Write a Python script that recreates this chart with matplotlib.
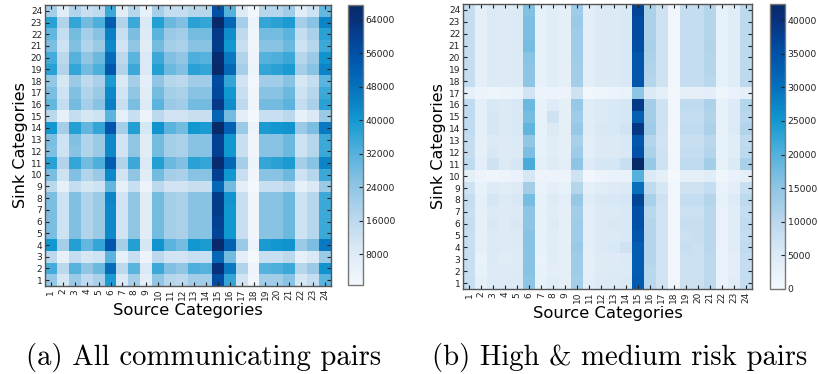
import numpy as np
import matplotlib
matplotlib.use("Agg")
import matplotlib.pyplot as plt
from matplotlib.colors import LinearSegmentedColormap

# ---------------- data (values in thousands of pairs) ----------------
categories = [str(i) for i in range(1, 25)]

# Panel (a): all communicating pairs; rows = sink category 1..24, cols = source 1..24
all_pairs_k = [
    [23, 10, 22, 15, 19, 39, 9, 20, 6, 24, 17, 16, 21, 21, 57, 36, 11, 1.6, 21, 21, 25, 10, 14, 31],   # 1
    [34, 16, 32, 24, 29, 49, 16, 31, 9, 35, 26, 24, 33, 32, 64, 46, 18, 2.5, 32, 33, 35, 17, 22, 41],  # 2
    [16, 5, 14, 10, 12, 31, 5, 13, 3, 16, 11, 11, 13, 13, 50, 28, 6, 0.6, 13, 13, 16, 5, 9, 22],       # 3
    [40, 20, 38, 30, 36, 55, 20, 38, 10, 41, 31, 28, 40, 39, 67, 52, 22, 3, 39, 40, 41, 22, 27, 46],   # 4
    [27, 12, 26, 18, 22, 43, 11, 24, 7, 28, 20, 19, 25, 25, 59, 40, 13, 2, 25, 25, 29, 12, 17, 35],    # 5
    [27, 12, 26, 18, 22, 43, 11, 24, 7, 28, 20, 19, 25, 25, 60, 40, 13, 2, 25, 25, 29, 12, 17, 35],    # 6
    [27, 12, 26, 18, 22, 43, 11, 24, 7, 28, 20, 19, 25, 25, 61, 40, 13, 2, 25, 25, 29, 12, 17, 35],    # 7
    [27, 12, 26, 18, 22, 44, 11, 24, 7, 28, 20, 19, 25, 25, 61, 41, 13, 2, 25, 25, 29, 12, 17, 35],    # 8
    [16, 5, 14, 10, 12, 30, 5, 13, 3, 16, 11, 11, 13, 13, 50, 28, 6, 0.6, 13, 13, 16, 5, 9, 22],       # 9
    [27, 12, 26, 18, 22, 43, 11, 24, 7, 28, 20, 19, 25, 25, 60, 40, 13, 2, 25, 25, 29, 12, 17, 35],    # 10
    [37, 18, 36, 28, 33, 53, 18, 35, 9, 38, 29, 26, 37, 36, 66, 50, 20, 2.8, 36, 37, 39, 20, 25, 44],  # 11
    [26, 12, 25, 18, 22, 43, 11, 24, 7, 28, 20, 19, 25, 25, 60, 40, 13, 2, 25, 25, 29, 12, 17, 35],    # 12
    [27, 12, 26, 18, 22, 43, 11, 24, 7, 28, 20, 19, 25, 25, 60, 40, 13, 2, 25, 25, 29, 12, 17, 35],    # 13
    [40, 20, 38, 30, 36, 55, 20, 38, 10, 41, 31, 28, 40, 39, 67.6, 52, 22, 3, 39, 40, 41, 22, 27, 46], # 14
    [16, 5, 14, 10, 12, 31, 5, 13, 3, 16, 11, 11, 13, 13, 51, 28, 6, 0.6, 13, 13, 16, 5, 9, 22],       # 15
    [30, 14, 28, 20, 25, 45, 13, 27, 8, 31, 22, 21, 28, 28, 62, 42, 15, 2.2, 28, 28, 31, 14, 19, 37],  # 16
    [27, 12, 26, 18, 22, 43, 11, 24, 7, 28, 20, 19, 25, 25, 58, 40, 13, 2, 25, 25, 29, 12, 17, 35],    # 17
    [23, 10, 22, 15, 19, 39, 9, 20, 6, 24, 17, 16, 21, 21, 57, 36, 11, 1.6, 21, 21, 25, 10, 14, 31],   # 18
    [37, 18, 36, 28, 33, 54, 18, 35, 9, 38, 29, 26, 37, 36, 67, 50, 20, 2.8, 36, 37, 39, 20, 25, 44],  # 19
    [34, 16, 32, 24, 29, 49, 16, 31, 9, 35, 26, 24, 33, 32, 66, 46, 18, 2.5, 32, 33, 35, 17, 22, 41],  # 20
    [27, 12, 26, 18, 22, 43, 11, 24, 7, 28, 20, 19, 25, 25, 61, 40, 13, 2, 25, 25, 29, 12, 17, 35],    # 21
    [30, 14, 28, 20, 25, 45, 13, 27, 8, 31, 22, 21, 28, 28, 62, 42, 15, 2.2, 28, 28, 31, 14, 19, 37],  # 22
    [37, 18, 36, 28, 33, 53, 18, 35, 9, 38, 29, 26, 37, 36, 67, 50, 20, 2.8, 36, 37, 39, 20, 25, 44],  # 23
    [20, 7, 18, 13, 15, 35, 7, 17, 5, 20, 14, 14, 17, 17, 56, 32, 8, 1.2, 17, 17, 21, 7, 12, 30],      # 24
]

# Panel (b): high & medium risk pairs
risk_pairs_k = [
    [8, 3, 5, 4.5, 5, 15, 2.5, 4, 3, 12.5, 3.5, 5, 5, 5.5, 33.5, 10, 6.5, 0.5, 7.5, 7.5, 9.5, 2, 4, 8.5],          # 1
    [8, 2.5, 4.5, 4.5, 5, 15.5, 2.5, 3.5, 3, 13, 3, 4.5, 5, 5, 33, 10, 6.5, 0.5, 7.5, 7.5, 9.5, 2, 3.5, 8.5],       # 2
    [8, 2, 5, 4, 4.5, 15.5, 2, 4, 3, 13, 3, 4.5, 4.5, 5, 33, 10.5, 6.5, 0.5, 7.5, 7.5, 9.5, 2, 3.5, 8.5],           # 3
    [8, 3, 5, 4.5, 5, 15.5, 2.5, 4, 3, 13.5, 3.5, 5, 5.5, 7, 33, 10.5, 6.5, 0.5, 8, 7.5, 10, 2, 4, 9],              # 4
    [8, 3, 5, 4.5, 5, 15.5, 2.5, 4, 3, 13, 3.5, 5, 5, 5.5, 34, 10.5, 6.5, 0.5, 7.5, 8, 10, 2, 4, 8.5],              # 5
    [8.5, 3, 5.5, 4.5, 5.5, 15, 2.5, 4.5, 3, 13, 3.5, 5, 5.5, 5.5, 35, 10.5, 6.5, 0.5, 8, 8, 10, 2, 4, 9],          # 6
    [8, 3, 5, 4.5, 5, 15, 2.5, 4, 3, 12.5, 3.5, 5, 5, 5.5, 35, 10, 6.5, 0.5, 7.5, 7.5, 10, 2, 4, 8.5],              # 7
    [8.5, 3, 6, 5, 5.5, 17, 2.5, 4.5, 3.5, 14, 4, 5.5, 5.5, 6, 37, 12, 7, 0.5, 8.5, 8.5, 10.5, 2.5, 4.5, 9.5],      # 8
    [7, 2.5, 4.5, 4, 4.5, 12.5, 2, 3.5, 2.5, 10.5, 3, 4, 4.5, 5, 30, 9, 6, 0.5, 7, 7, 8.5, 2, 3.5, 8],              # 9
    [3, 1.5, 1, 1.5, 2, 6, 1.5, 1.5, 1.5, 7, 0.5, 1.5, 2, 2, 20, 5, 3, 0, 3, 3, 4, 1, 2, 3],                        # 10
    [9, 3.5, 7, 5, 6, 21, 3, 4.5, 3.5, 15, 4.5, 6, 6, 8, 42.4, 14, 7, 0.5, 9, 9, 12.5, 2.5, 5, 12],                 # 11
    [8.5, 3, 5.5, 4.5, 5, 16.5, 2.5, 4, 3, 13, 3.5, 5, 5, 5.5, 35, 11.5, 7, 0.5, 8.5, 8.5, 10.5, 2.5, 4, 9.5],      # 12
    [8.5, 3, 5, 4.5, 5, 14.5, 2.5, 4, 3, 12, 3.5, 5, 5, 5.5, 34, 10.5, 6.5, 0.5, 8, 8, 10, 2.5, 4, 9],              # 13
    [9, 3, 6, 5, 5.5, 19, 2.5, 5, 3, 14, 4, 5.5, 5.5, 6.5, 39, 13, 7, 0.5, 9, 9, 11.5, 2.5, 5, 11],                 # 14
    [9, 3, 6, 5, 5.5, 17, 2.5, 7, 3, 13, 4, 5, 5.5, 6, 32.5, 12.5, 7, 0.5, 8.5, 8.5, 11, 2.5, 4.5, 10],             # 15
    [9, 3, 5.5, 5, 5.5, 18, 2.5, 4.5, 3, 14, 4, 5, 5.5, 6, 38.5, 12.5, 7, 0.5, 9, 9, 11.5, 2.5, 4.5, 10.5],         # 16
    [3, 1.5, 1, 1.5, 2, 6.5, 1.5, 1.5, 1.5, 7, 0.5, 1, 1.5, 2, 15, 5, 3, 0.3, 3, 3, 3.5, 1, 2, 3],                  # 17
    [8.5, 3, 5, 4.5, 5, 15, 2.5, 4, 3, 12.5, 3.5, 5, 5, 5.5, 34, 10.5, 7, 0.5, 8.5, 8.5, 10, 2.5, 4, 9.5],          # 18
    [8.5, 3, 5, 4.5, 5, 15, 2.5, 4, 3, 12.5, 3.5, 5, 5, 5.5, 34, 11, 7, 0.5, 8.5, 8.5, 10.5, 2.5, 4, 9.5],          # 19
    [8.5, 3, 5, 4.5, 5, 15.5, 2.5, 4, 3, 13, 3.5, 5, 5, 5.5, 34, 11.5, 7, 0.5, 8.5, 8.5, 10.5, 2.5, 4, 9.5],        # 20
    [8.5, 3, 5, 4.5, 5, 17, 2.5, 4, 3, 13, 3.5, 5, 5, 5.5, 35.5, 12, 7, 0.5, 8.5, 8.5, 11, 2.5, 4, 9.5],            # 21
    [8.5, 3, 5, 4.5, 5, 16.5, 2.5, 4, 3, 13, 3.5, 5, 5, 5.5, 36, 11.5, 7, 0.5, 8.5, 8.5, 10.5, 2.5, 4, 9.5],        # 22
    [8.5, 3, 5, 4.5, 5, 16.5, 2.5, 4, 3, 13.5, 3.5, 5, 5, 5.5, 36, 11.5, 7, 0.5, 8.5, 8.5, 10.5, 2.5, 4, 9.5],      # 23
    [8.5, 3, 5, 4.5, 5, 16, 2.5, 4, 3, 13, 3.5, 5, 5, 5.5, 37, 11.5, 7, 0.5, 8.5, 8.5, 10.5, 2.5, 4, 9.5],          # 24
]

cbar_ticks_a = [8000, 16000, 24000, 32000, 40000, 48000, 56000, 64000]
cbar_ticks_b = [0, 5000, 10000, 15000, 20000, 25000, 30000, 35000, 40000]
captions = ["(a) All communicating pairs", "(b) High & medium risk pairs"]

# ---------------- style ----------------
cmap = LinearSegmentedColormap.from_list("oldblues", [
    (0.00, "#f3f8fd"), (0.12, "#dceaf6"), (0.24, "#b8d7ed"), (0.36, "#8cc4e4"),
    (0.48, "#4fb0dc"), (0.59, "#1298d1"), (0.71, "#0670bc"), (0.83, "#0050a8"),
    (0.95, "#08307a"), (1.00, "#082a68")])

fig = plt.figure(figsize=(8.18, 3.74), dpi=100)

panels = [
    (np.array(all_pairs_k) * 1000, [0.055, 0.2353, 0.3496, 0.7513], [0.4254, 0.238, 0.0183, 0.749], cbar_ticks_a),
    (np.array(risk_pairs_k) * 1000, [0.566, 0.2273, 0.3533, 0.762], [0.9413, 0.2273, 0.0183, 0.762], cbar_ticks_b),
]

for data, pos, cpos, cticks in panels:
    ax = fig.add_axes(pos)
    im = ax.imshow(data, cmap=cmap, origin="lower", aspect="auto", interpolation="nearest")
    ax.set_xticks(range(24))
    ax.set_xticklabels(categories, rotation=90)
    ax.set_yticks(range(24))
    ax.set_yticklabels(categories)
    ax.tick_params(direction="in", top=True, right=True, length=3, width=0.8,
                   labelsize=6.5, pad=2, colors="#222222")
    for s in ax.spines.values():
        s.set_color("#555555")
        s.set_linewidth(1.0)
    ax.set_xlabel("Source Categories", fontsize=11.8, labelpad=2)
    ax.set_ylabel("Sink Categories", fontsize=11.5, labelpad=2)
    cax = fig.add_axes(cpos)
    cb = fig.colorbar(im, cax=cax, ticks=cticks)
    cb.outline.set_edgecolor("#777777")
    cb.outline.set_linewidth(1.0)
    cax.tick_params(direction="in", length=3, width=0.8, labelsize=6.7, pad=2, colors="#222222")

fig.text(0.2494, 0.024, captions[0], fontfamily="cmr10", fontsize=20.7, ha="center", va="baseline")
fig.text(0.758, 0.024, captions[1], fontfamily="cmr10", fontsize=20.7, ha="center", va="baseline")

fig.savefig("out.png", dpi=100)
